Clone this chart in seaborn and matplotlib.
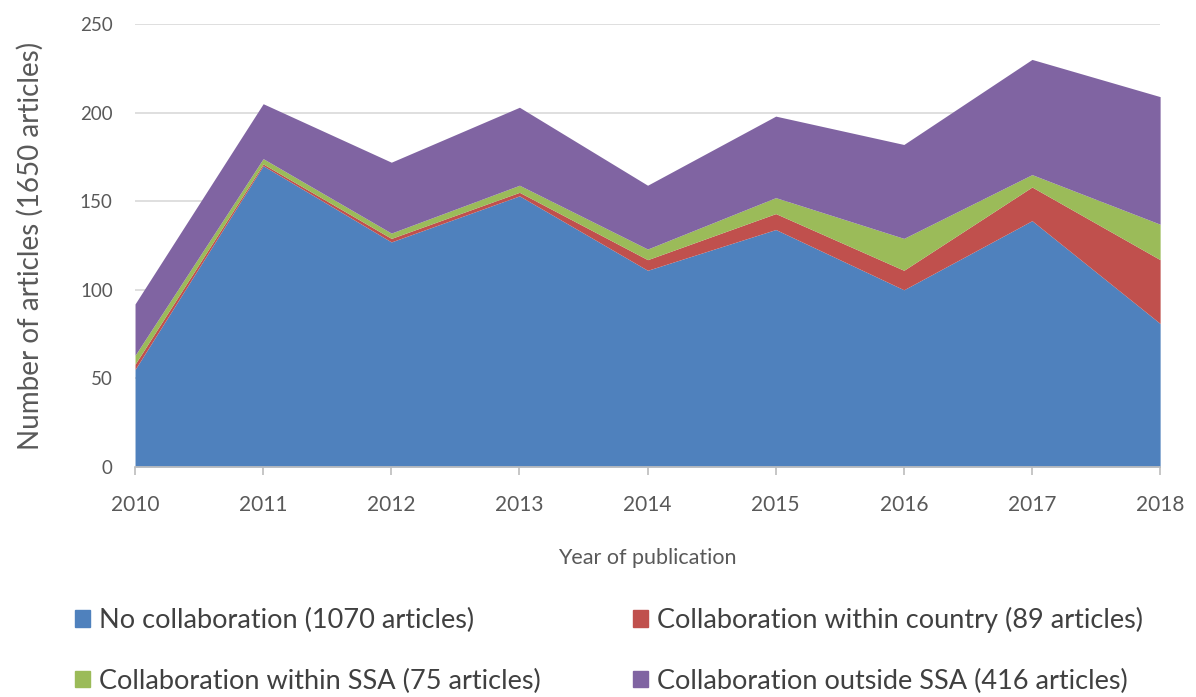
import numpy as np
import pandas as pd
import matplotlib
matplotlib.use("Agg")
import matplotlib.pyplot as plt
import seaborn as sns
from matplotlib.patches import Patch

years = [2010, 2011, 2012, 2013, 2014, 2015, 2016, 2017, 2018]
no_collab = [55, 170, 127, 153, 111, 134, 100, 139, 81]
within_country = [3, 1, 2, 2, 6, 9, 11, 19, 36]
within_ssa = [5, 3, 3, 4, 6, 9, 18, 7, 20]
outside_ssa = [29, 31, 40, 44, 36, 46, 53, 65, 72]

labels = ["No collaboration (1070 articles)",
          "Collaboration within country (89 articles)",
          "Collaboration within SSA (75 articles)",
          "Collaboration outside SSA (416 articles)"]
colors = ["#4F81BD", "#C0504D", "#9BBB59", "#8064A2"]

sns.set_theme(style="white")
plt.rcParams['font.family'] = ['Lato', 'DejaVu Sans']

fig = plt.figure(figsize=(11.96, 6.97), dpi=100)
ax = fig.add_axes([0.1129, 0.330, 0.8571, 0.6356])

ax.stackplot(years, no_collab, within_country, within_ssa, outside_ssa,
             colors=colors, linewidth=0)

ax.set_xlim(2010, 2018)
ax.set_ylim(0, 250)
ax.set_yticks(range(0, 251, 50))
ax.set_xticks(years)
ax.grid(axis="y", color="#D9D9D9", linewidth=1.2)
ax.set_axisbelow(True)
for s in ["top", "right", "left"]:
    ax.spines[s].set_visible(False)
ax.spines["bottom"].set_color("#BFBFBF")
ax.spines["bottom"].set_zorder(5)
ax.tick_params(axis="x", bottom=True, length=6, color="#BFBFBF",
               labelsize=15, labelcolor="#595959", pad=14)
ax.tick_params(axis="y", left=False, labelsize=13.5, labelcolor="#595959", pad=10)

ax.set_xlabel("Year of publication", fontsize=15.5, color="#595959", labelpad=24)
ax.set_ylabel("Number of articles (1650 articles)", fontsize=20, color="#595959", labelpad=26)

handles = [Patch(color=c) for c in colors]
order = [0, 2, 1, 3]
fig.legend([handles[i] for i in order], [labels[i] for i in order],
           ncol=2, loc="lower left", bbox_to_anchor=(0.042, -0.030),
           frameon=False, fontsize=19.5, labelcolor="#404040",
           handlelength=0.55, handleheight=0.55, handletextpad=0.35,
           columnspacing=3.4, labelspacing=1.3)

fig.savefig("out.png", dpi=100)
